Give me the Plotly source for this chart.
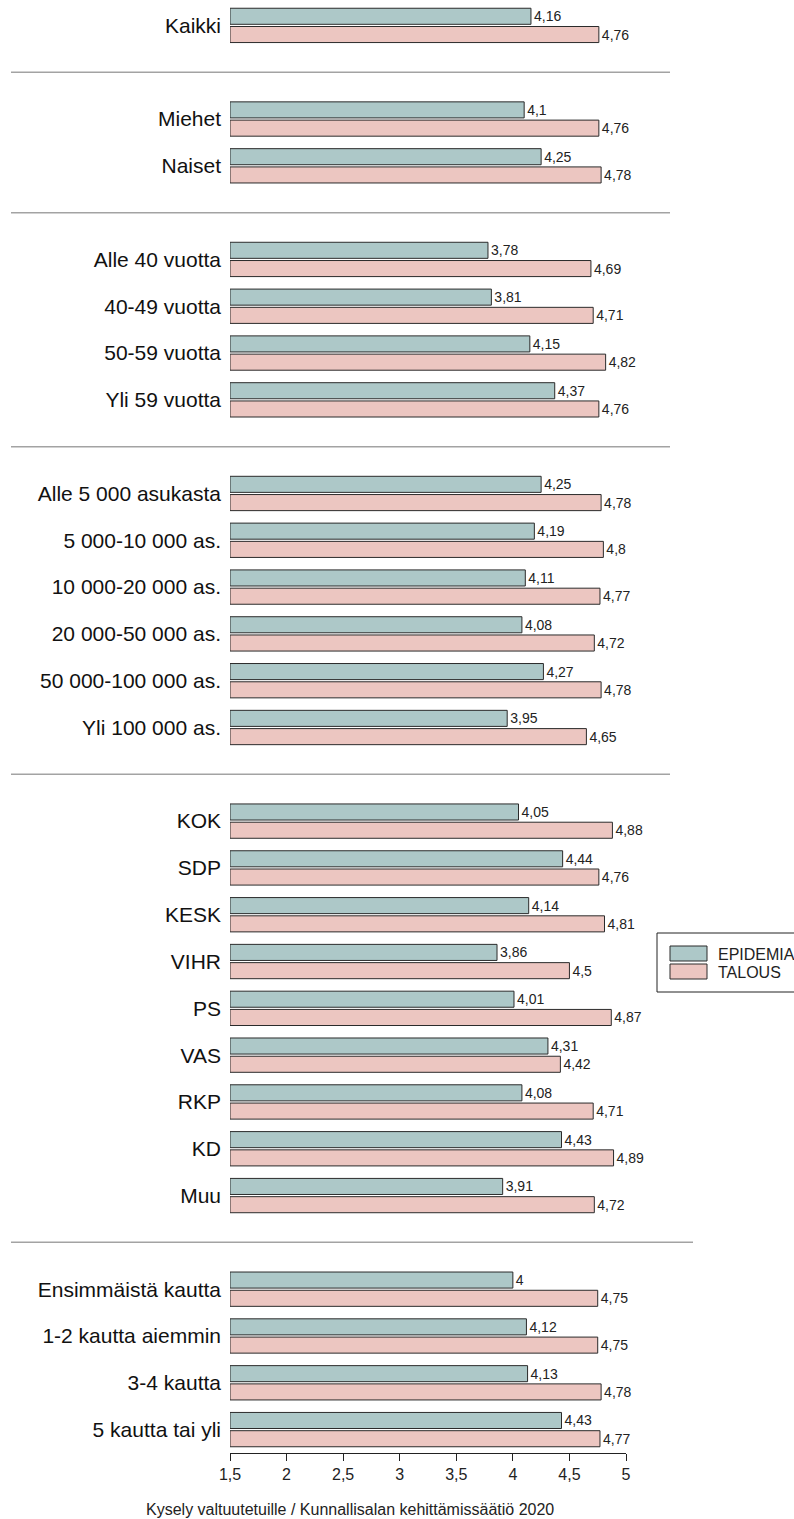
import plotly.graph_objects as go

# groups of categories, top to bottom
groups = [
    ["Kaikki"],
    ["Miehet", "Naiset"],
    ["Alle 40 vuotta", "40-49 vuotta", "50-59 vuotta", "Yli 59 vuotta"],
    ["Alle 5 000 asukasta", "5 000-10 000 as.", "10 000-20 000 as.",
     "20 000-50 000 as.", "50 000-100 000 as.", "Yli 100 000 as."],
    ["KOK", "SDP", "KESK", "VIHR", "PS", "VAS", "RKP", "KD", "Muu"],
    ["Ensimmäistä kautta", "1-2 kautta aiemmin", "3-4 kautta", "5 kautta tai yli"],
]

epidemia = [4.16,
            4.1, 4.25,
            3.78, 3.81, 4.15, 4.37,
            4.25, 4.19, 4.11, 4.08, 4.27, 3.95,
            4.05, 4.44, 4.14, 3.86, 4.01, 4.31, 4.08, 4.43, 3.91,
            4.0, 4.12, 4.13, 4.43]
talous = [4.76,
          4.76, 4.78,
          4.69, 4.71, 4.82, 4.76,
          4.78, 4.8, 4.77, 4.72, 4.78, 4.65,
          4.88, 4.76, 4.81, 4.5, 4.87, 4.42, 4.71, 4.89, 4.72,
          4.75, 4.75, 4.78, 4.77]

series_names = ["EPIDEMIA", "TALOUS"]
colors = ["#adc8c8", "#ecc6c1"]
x_start = 1.5
x_ticks = [1.5, 2, 2.5, 3, 3.5, 4, 4.5, 5]
footer = "Kysely valtuutetuille / Kunnallisalan kehittämissäätiö 2020"

FONT = "Liberation Sans, Arial, sans-serif"
W, H = 794, 1519
ML, MR, MT, MB = 230, 168, 2, 66

# category axis with a blank slot between groups
categories = []
spacers = []
cats = []
for i, g in enumerate(groups):
    if i > 0:
        sp = " " * i
        spacers.append(sp)
        categories.append(sp)
    categories.extend(g)
    cats.extend(g)


def fmt(v):
    return f"{v:g}".replace(".", ",")


fig = go.Figure()
for name, vals, col in zip(series_names, [epidemia, talous], colors):
    fig.add_trace(go.Bar(
        y=cats,
        x=[v - x_start for v in vals],
        base=x_start,
        orientation="h",
        name=name,
        marker=dict(color=col, line=dict(color="#2b2b2b", width=1)),
        text=[fmt(v) for v in vals],
        textposition="outside",
        textfont=dict(size=14, color="#222", family=FONT),
        constraintext="none",
        cliponaxis=False,
        showlegend=False,
    ))

pw = W - ML - MR
ph = H - MT - MB


def px_x(p):
    return (p - ML) / pw


def px_y(p):
    return (H - MB - p) / ph


shapes = []
for k, sp in enumerate(spacers):
    x1 = 693 if k == len(spacers) - 1 else 670
    shapes.append(dict(type="line", xref="paper", yref="y",
                       x0=px_x(11), x1=px_x(x1), y0=sp, y1=sp,
                       line=dict(color="#a3a3a3", width=1.5)))

# legend box drawn by hand
shapes.append(dict(type="rect", xref="paper", yref="paper",
                   x0=px_x(657), x1=px_x(805), y0=px_y(933), y1=px_y(992),
                   line=dict(color="#222", width=1), fillcolor="white"))
annotations = []
for i, (name, col) in enumerate(zip(series_names, colors)):
    top = 946 + i * 18
    shapes.append(dict(type="rect", xref="paper", yref="paper",
                       x0=px_x(670), x1=px_x(707), y0=px_y(top), y1=px_y(top + 15),
                       line=dict(color="#2b2b2b", width=1), fillcolor=col))
    annotations.append(dict(text=name, xref="paper", yref="paper",
                            x=px_x(716), y=px_y(top + 8), xanchor="left", yanchor="middle",
                            showarrow=False, font=dict(size=16, color="#222", family=FONT)))

annotations.append(dict(text=footer, xref="paper", yref="paper",
                        x=px_x(350), y=px_y(1509), xanchor="center", yanchor="middle",
                        showarrow=False, font=dict(size=16, color="#222", family=FONT)))

fig.update_layout(
    width=W, height=H,
    margin=dict(l=ML, r=MR, t=MT, b=MB, pad=0),
    paper_bgcolor="white", plot_bgcolor="white",
    barmode="group", bargap=0.22, bargroupgap=0.12,
    separators=", ",
    font=dict(family=FONT, color="#222"),
    shapes=shapes, annotations=annotations,
    xaxis=dict(range=[1.5, 5], tickvals=x_ticks, showgrid=False, zeroline=False,
               showline=True, linecolor="#222", linewidth=1,
               ticks="outside", ticklen=7, tickcolor="#222",
               tickfont=dict(size=16, color="#222")),
    yaxis=dict(type="category", categoryorder="array", categoryarray=categories,
               range=[len(categories) - 0.5, -0.5], showgrid=False, zeroline=False,
               showline=False, ticks="", ticklabelstandoff=8,
               tickfont=dict(size=21, color="#111")),
)

# drop the default page margin so the figure sits at the window's corner
fig.write_html("out.html", config={"displayModeBar": False},
               post_script="document.body.style.margin='0';document.body.style.overflow='hidden';")
